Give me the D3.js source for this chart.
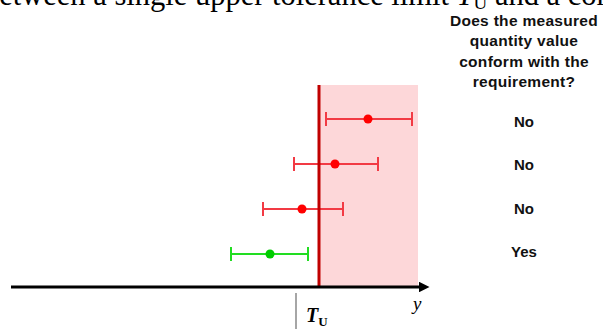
<!DOCTYPE html>
<html>
<head>
<meta charset="utf-8">
<script src="https://cdn.jsdelivr.net/npm/d3@7"></script>
<style>
  body { margin: 0; background: #fff; }
  svg { display: block; }
</style>
</head>
<body>
<div id="chart"></div>
<script>
// measurement results, relative to the upper tolerance limit T_U = 0
var rows = ["r1", "r2", "r3", "r4"];
var values = [4.9, 1.6, -1.7, -4.9];
var lower = [0.7, -2.5, -5.6, -8.8];
var upper = [9.3, 5.9, 2.4, -1.1];
var answers = ["No", "No", "No", "Yes"];
var conform = [false, false, false, true];
var limitTU = 0;
var rejectEnd = 9.9;
var questionLines = ["Does the measured", "quantity value", "conform with the", "requirement?"];

var width = 603,
  height = 329;

var svg = d3
  .select("#chart")
  .append("svg")
  .attr("width", width)
  .attr("height", height);

// scales
var x = d3.scaleLinear().domain([-30.8, 11.2]).range([11, 431]);
var y = d3.scalePoint().domain(rows).range([119, 254]);
var yAnswer = d3.scalePoint().domain(rows).range([127, 257]);
var axisY = 287,
  topY = 85;

// clipped caption from the page above
var cap = svg
  .append("text")
  .attr("x", -16)
  .attr("y", 5)
  .style("font-family", "Liberation Serif, Times New Roman, serif")
  .style("font-size", "30.5px")
  .style("fill", "#000");
cap.append("tspan").text("between a single upper tolerance limit ");
cap.append("tspan").style("font-style", "italic").text("T");
cap.append("tspan").attr("dy", 4).style("font-size", "19px").text("U");
cap.append("tspan").attr("dy", -4).text(" and a combined");

// rejection zone
svg
  .append("rect")
  .attr("x", x(limitTU))
  .attr("y", topY)
  .attr("width", x(rejectEnd) - x(limitTU))
  .attr("height", axisY - topY)
  .style("fill", "#fdd7d9");

// error bars
var bars = svg
  .append("g")
  .selectAll("g")
  .data(rows)
  .enter()
  .append("g")
  .style("stroke", function (d, i) {
    return conform[i] ? "#22dd22" : "#f23a44";
  })
  .style("stroke-width", 2);

bars
  .append("line")
  .attr("x1", function (d, i) { return x(lower[i]); })
  .attr("x2", function (d, i) { return x(upper[i]); })
  .attr("y1", function (d) { return y(d); })
  .attr("y2", function (d) { return y(d); });

bars
  .append("line")
  .attr("x1", function (d, i) { return x(lower[i]); })
  .attr("x2", function (d, i) { return x(lower[i]); })
  .attr("y1", function (d) { return y(d) - 7; })
  .attr("y2", function (d) { return y(d) + 7; });

bars
  .append("line")
  .attr("x1", function (d, i) { return x(upper[i]); })
  .attr("x2", function (d, i) { return x(upper[i]); })
  .attr("y1", function (d) { return y(d) - 7; })
  .attr("y2", function (d) { return y(d) + 7; });

bars
  .append("circle")
  .attr("cx", function (d, i) { return x(values[i]); })
  .attr("cy", function (d) { return y(d); })
  .attr("r", 4.5)
  .style("stroke", "none")
  .style("fill", function (d, i) {
    return conform[i] ? "#00cc00" : "#ff0000";
  });

// upper tolerance limit line
svg
  .append("line")
  .attr("x1", x(limitTU))
  .attr("x2", x(limitTU))
  .attr("y1", topY)
  .attr("y2", axisY)
  .style("stroke", "#c00000")
  .style("stroke-width", 3);

// measurement axis with arrow
svg
  .append("defs")
  .append("marker")
  .attr("id", "arrow")
  .attr("viewBox", "0 0 10 10")
  .attr("refX", 0)
  .attr("refY", 5)
  .attr("markerWidth", 4.5)
  .attr("markerHeight", 3.5)
  .attr("markerUnits", "strokeWidth")
  .attr("orient", "auto")
  .append("path")
  .attr("d", "M0,0L10,5L0,10z")
  .style("fill", "#000");

svg
  .append("line")
  .attr("x1", x.range()[0])
  .attr("x2", x.range()[1] - 12)
  .attr("y1", axisY)
  .attr("y2", axisY)
  .style("stroke", "#000")
  .style("stroke-width", 3)
  .attr("marker-end", "url(#arrow)");

// T_U tick and labels
svg
  .append("line")
  .attr("x1", x(limitTU) - 23)
  .attr("x2", x(limitTU) - 23)
  .attr("y1", 293)
  .attr("y2", 329)
  .style("stroke", "#888")
  .style("stroke-width", 1.5);

var tu = svg
  .append("text")
  .attr("x", x(limitTU) - 13)
  .attr("y", 322)
  .style("font-family", "Liberation Serif, Times New Roman, serif")
  .style("font-weight", "bold")
  .style("font-size", "20px");
tu.append("tspan").style("font-style", "italic").text("T");
tu.append("tspan").attr("dy", 4).style("font-size", "13px").text("U");

svg
  .append("text")
  .attr("x", x(9.4))
  .attr("y", 310)
  .style("font-family", "Liberation Serif, Times New Roman, serif")
  .style("font-style", "italic")
  .style("font-size", "19px")
  .text("y");

// question and answers
var textX = 524;
svg
  .append("g")
  .selectAll("text")
  .data(questionLines)
  .enter()
  .append("text")
  .attr("x", textX)
  .attr("y", function (d, i) { return 26 + i * 20.3; })
  .attr("text-anchor", "middle")
  .style("font-family", "Liberation Sans, Arial, sans-serif")
  .style("font-weight", "bold")
  .style("font-size", "15.5px")
  .style("letter-spacing", "0.3px")
  .style("fill", "#111")
  .text(function (d) { return d; });

svg
  .append("g")
  .selectAll("text")
  .data(rows)
  .enter()
  .append("text")
  .attr("x", textX)
  .attr("y", function (d) { return yAnswer(d); })
  .attr("text-anchor", "middle")
  .style("font-family", "Liberation Sans, Arial, sans-serif")
  .style("font-weight", "bold")
  .style("font-size", "15px")
  .style("fill", "#111")
  .text(function (d, i) { return answers[i]; });
</script>
</body>
</html>
